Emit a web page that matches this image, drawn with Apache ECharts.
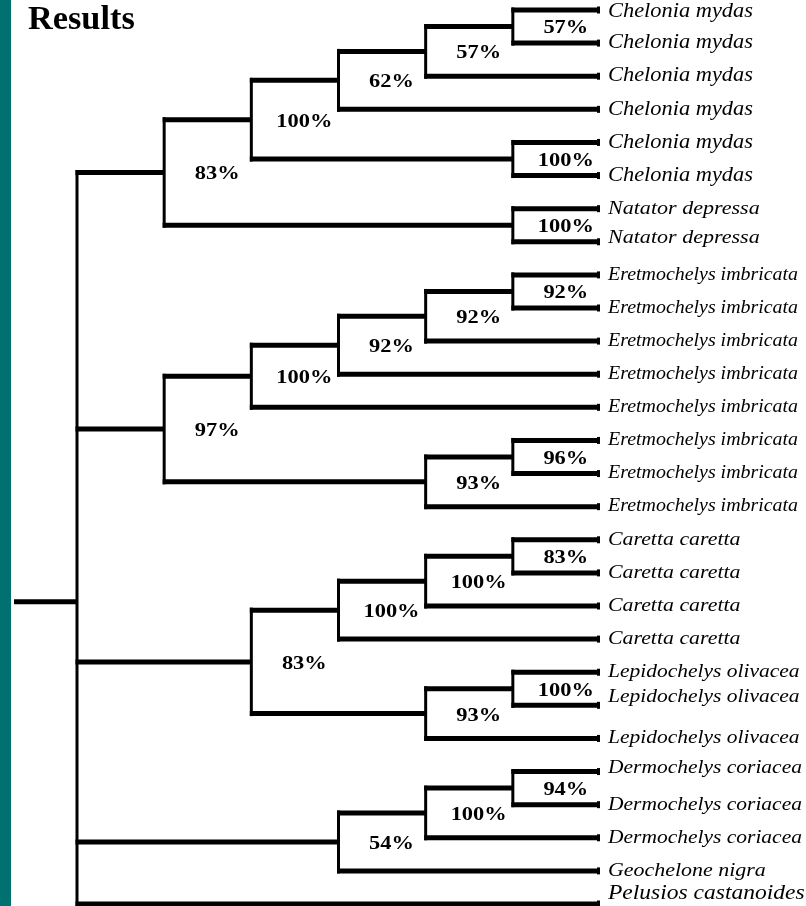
<!DOCTYPE html>
<html><head><meta charset="utf-8">
<script src="https://cdn.jsdelivr.net/npm/echarts@6/dist/echarts.min.js"></script>
<style>html,body{margin:0;padding:0;background:#fff}#chart{width:806px;height:906px}</style>
</head><body><div id="chart"></div>
<script>
const chartTitle = 'Results';
const leafNames = [
  'Chelonia mydas','Chelonia mydas','Chelonia mydas','Chelonia mydas','Chelonia mydas','Chelonia mydas',
  'Natator depressa','Natator depressa',
  'Eretmochelys imbricata','Eretmochelys imbricata','Eretmochelys imbricata','Eretmochelys imbricata',
  'Eretmochelys imbricata','Eretmochelys imbricata','Eretmochelys imbricata','Eretmochelys imbricata',
  'Caretta caretta','Caretta caretta','Caretta caretta','Caretta caretta',
  'Lepidochelys olivacea','Lepidochelys olivacea','Lepidochelys olivacea',
  'Dermochelys coriacea','Dermochelys coriacea','Dermochelys coriacea',
  'Geochelone nigra','Pelusios castanoides'
];
// internal clades, children listed before parents; 'L#' = leaf, 'n#' = clade
const cladeChildren = [
  ['L0','L1'], ['n0','L2'], ['n1','L3'], ['L4','L5'], ['n2','n3'], ['L6','L7'], ['n4','n5'],
  ['L8','L9'], ['n7','L10'], ['n8','L11'], ['n9','L12'], ['L13','L14'], ['n11','L15'], ['n10','n12'],
  ['L16','L17'], ['n14','L18'], ['n15','L19'], ['L20','L21'], ['n17','L22'], ['n16','n18'],
  ['L23','L24'], ['n20','L25'], ['n21','L26'],
  ['n6','n13','n19','n22','L27']
];
const cladeSupport = ['57%','57%','62%','100%','100%','100%','83%',
  '92%','92%','92%','100%','96%','93%','97%',
  '83%','100%','100%','100%','93%','83%',
  '94%','100%','54%',''];

// ---- layout (cladogram: leaves aligned, node depth by subtree height) ----
const info = {};
leafNames.forEach((n, i) => { info['L' + i] = { h: 0, y: i }; });
cladeChildren.forEach((ch, k) => {
  const ys = ch.map(c => info[c].y);
  info['n' + k] = {
    h: 1 + Math.max(...ch.map(c => info[c].h)),
    y: ys.reduce((a, b) => a + b, 0) / ys.length
  };
});
const rootId = 'n' + (cladeChildren.length - 1);
const maxH = info[rootId].h;
const lvl = id => maxH - info[id].h;

const branchData = [];   // [xParent, xChild, yChild]
const nodeData = [];     // [x, y, yTop, yBottom, supportIndex]
cladeChildren.forEach((ch, k) => {
  const id = 'n' + k;
  const ys = ch.map(c => info[c].y);
  nodeData.push([lvl(id), info[id].y, Math.min(...ys), Math.max(...ys), k]);
  ch.forEach(c => branchData.push([lvl(id), lvl(c), info[c].y]));
});
const leafData = leafNames.map((n, i) => [maxH, i, i]);

// ---- styles ----
const labelFont = { 'Chelonia': 20, 'Natator': 19.7, 'Eretmochelys': 17.8, 'Caretta': 19.5,
  'Lepidochelys': 19.2, 'Dermochelys': 19.2, 'Geochelone': 19.6, 'Pelusios': 21 };
const labelShift = { 0: 2, 7: -4, 21: -8, 23: -4, 27: -11 };
const HW = 5, VW = 3, INK = '#000';

const chart = echarts.init(document.getElementById('chart'), null, { renderer: 'canvas' });
chart.setOption({
  animation: false,
  backgroundColor: '#fff',
  graphic: [
    { type: 'rect', left: 0, top: 0, shape: { width: 11, height: 906 }, style: { fill: '#007070' }, z: 10 },
    { type: 'text', x: 28, y: 4, scaleX: 1.04,
      style: { text: chartTitle, font: 'bold 33px "Liberation Serif", "Times New Roman", serif', fill: '#000', verticalAlign: 'top' }, z: 10 }
  ],
  grid: { left: 77, right: 206, top: 10, bottom: 2 },
  xAxis: { type: 'value', min: 0, max: maxH, show: false },
  yAxis: { type: 'value', min: 0, max: leafNames.length - 1, inverse: true, show: false },
  series: [
    {
      type: 'custom', name: 'branches', data: branchData, clip: false,
      renderItem: (p, api) => {
        const a = api.coord([api.value(0), api.value(2)]);
        const b = api.coord([api.value(1), api.value(2)]);
        return { type: 'rect', shape: { x: a[0] - VW / 2, y: a[1] - HW / 2, width: b[0] - a[0] + VW / 2, height: HW }, style: { fill: INK } };
      }
    },
    {
      type: 'custom', name: 'nodes', data: nodeData, clip: false,
      renderItem: (p, api) => {
        const t = api.coord([api.value(0), api.value(2)]);
        const b = api.coord([api.value(0), api.value(3)]);
        const c = api.coord([api.value(0), api.value(1)]);
        const k = api.value(4);
        const children = [
          { type: 'rect', shape: { x: t[0] - VW / 2, y: t[1] - HW / 2, width: VW, height: b[1] - t[1] + HW }, style: { fill: INK } }
        ];
        if (cladeSupport[k]) {
          children.push({ type: 'text', x: c[0] + 53, y: c[1] + 2, scaleX: 1.18,
            style: { text: cladeSupport[k], font: 'bold 19px "Liberation Serif", "Times New Roman", serif', fill: INK, align: 'center', verticalAlign: 'middle' } });
        } else {
          children.push({ type: 'rect', shape: { x: c[0] - 63, y: c[1] - HW / 2, width: 63, height: HW }, style: { fill: INK } });
        }
        return { type: 'group', children };
      }
    },
    {
      type: 'custom', name: 'leaves', data: leafData, clip: false,
      renderItem: (p, api) => {
        const c = api.coord([api.value(0), api.value(1)]);
        const i = api.value(2);
        const name = leafNames[i];
        const fs = labelFont[name.split(' ')[0]] || 20;
        return { type: 'group', children: [
          { type: 'rect', shape: { x: c[0] - 3, y: c[1] - 3.5, width: 3, height: 7 }, style: { fill: INK } },
          { type: 'text', x: c[0] + 8, y: c[1] + (labelShift[i] || 0), scaleX: 1.12,
            style: { text: name, font: 'italic ' + fs + 'px "Liberation Serif", "Times New Roman", serif', fill: INK, align: 'left', verticalAlign: 'middle' } }
        ] };
      }
    }
  ]
});
</script></body></html>
